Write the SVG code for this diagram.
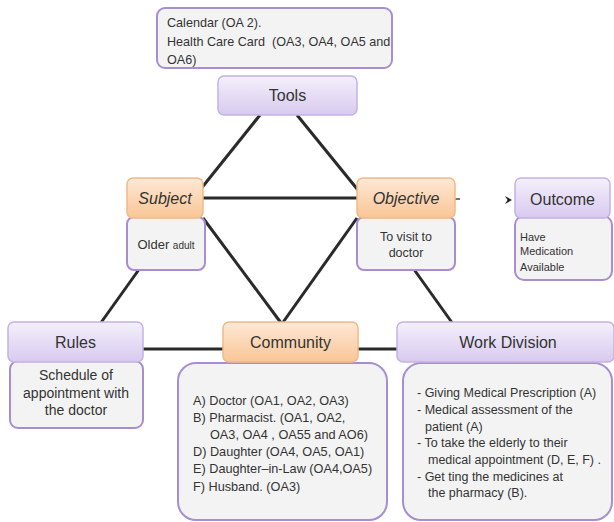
<svg xmlns="http://www.w3.org/2000/svg" width="614" height="522" viewBox="0 0 614 522" xml:space="preserve">
<defs>
<linearGradient id="gp" x1="0" y1="0" x2="0" y2="1"><stop offset="0" stop-color="#f4f0fb"/><stop offset="1" stop-color="#d8caef"/></linearGradient>
<linearGradient id="go" x1="0" y1="0" x2="0" y2="1"><stop offset="0" stop-color="#fee9d6"/><stop offset="1" stop-color="#f9c596"/></linearGradient>
<marker id="arr" markerWidth="10" markerHeight="10" refX="7" refY="5" orient="auto" markerUnits="userSpaceOnUse"><path d="M0,1 L7,5 L0,9 L2.5,5 Z" fill="#222"/></marker>
<style>
.hp{fill:url(#gp);stroke:#c4b2e3;stroke-width:1.5}
.ho{fill:url(#go);stroke:#f2b985;stroke-width:1.5}
.bd{fill:#f3f3f3;stroke:#a88dd0;stroke-width:2}
.t{font-family:"Liberation Sans",Arial,sans-serif;fill:#333;white-space:pre}
.h{font-size:16px;text-anchor:middle}
.c{text-anchor:middle}
.s{font-size:12.6px}
.e{stroke:#2a2a2a;stroke-width:3;fill:none}
</style>
</defs>
<g id="connectors">
<line class="e" x1="260" y1="115" x2="200" y2="190"/>
<line class="e" x1="297" y1="115" x2="362" y2="195"/>
<line class="e" x1="200" y1="198" x2="360" y2="198"/>
<line class="e" x1="203" y1="218" x2="290" y2="335"/>
<line class="e" x1="357" y1="218" x2="274" y2="335"/>
<line class="e" x1="140" y1="268" x2="100" y2="324"/>
<line class="e" x1="413" y1="268" x2="453" y2="324"/>
<line class="e" x1="140" y1="349" x2="225" y2="349"/>
<line class="e" x1="356" y1="349" x2="399" y2="349"/>
<line x1="455" y1="199" x2="460" y2="199" stroke="#444" stroke-width="1.5"/>
<line x1="500" y1="200" x2="512" y2="200" stroke="#fff" stroke-width="1" marker-end="url(#arr)"/>
</g>
<g id="tools-note">
<rect class="bd" x="157" y="8" width="235" height="60" rx="8"/>
<text class="t s" x="167" y="27">Calendar (OA 2).</text>
<text class="t s" x="167" y="46">Health Care Card  (OA3, OA4, OA5 and</text>
<text class="t s" x="167" y="64">OA6)</text>
</g>
<g id="tools">
<rect class="hp" x="218" y="76" width="139" height="39" rx="6"/>
<text class="t h" x="287.5" y="101">Tools</text>
</g>
<g id="subject">
<rect class="bd" x="127" y="217" width="78" height="53" rx="7"/>
<text class="t c" x="166" y="249"><tspan font-size="13">Older </tspan><tspan font-size="10">adult</tspan></text>
<rect class="ho" x="127" y="178" width="76" height="40" rx="6"/>
<text class="t h" x="165" y="204" font-style="italic" font-size="15.5">Subject</text>
</g>
<g id="objective">
<rect class="bd" x="357" y="217" width="98" height="53" rx="7"/>
<text class="t c" x="406" y="241" font-size="12.5">To visit to</text>
<text class="t c" x="406" y="257" font-size="12.5">doctor</text>
<rect class="ho" x="357" y="178" width="98" height="40" rx="6"/>
<text class="t h" x="406" y="204" font-style="italic" font-size="15.5">Objective</text>
</g>
<g id="outcome">
<rect class="bd" x="515" y="216" width="97" height="64" rx="9"/>
<text class="t" x="520" y="241" font-size="11">Have</text>
<text class="t" x="520" y="255" font-size="11">Medication</text>
<text class="t" x="520" y="271" font-size="11">Available</text>
<rect class="hp" x="515" y="178" width="95" height="40" rx="6"/>
<text class="t h" x="562.5" y="205">Outcome</text>
</g>
<g id="rules">
<rect class="bd" x="10" y="361" width="133" height="67" rx="8"/>
<text class="t c" x="76" y="380" font-size="14">Schedule of</text>
<text class="t c" x="76" y="398" font-size="14">appointment with</text>
<text class="t c" x="76" y="415" font-size="14">the doctor</text>
<rect class="hp" x="8" y="322" width="135" height="40" rx="6"/>
<text class="t h" x="75.5" y="348">Rules</text>
</g>
<g id="community">
<rect class="bd" x="178" y="363" width="209" height="157" rx="18"/>
<g class="t" font-size="12.7">
<text x="193" y="405">A) Doctor  (OA1, OA2, OA3)</text>
<text x="193" y="422">B) Pharmacist. (OA1, OA2,</text>
<text x="210" y="439">OA3, OA4 , OA55 and AO6)</text>
<text x="193" y="456">D) Daughter  (OA4, OA5, OA1)</text>
<text x="193" y="473">E) Daughter–in-Law (OA4,OA5)</text>
<text x="193" y="491">F) Husband. (OA3)</text>
</g>
<rect class="ho" x="223" y="322" width="135" height="40" rx="6"/>
<text class="t h" x="290.5" y="348">Community</text>
</g>
<g id="work-division">
<rect class="bd" x="403" y="363" width="209" height="157" rx="18"/>
<g class="t" font-size="12.5">
<text x="417" y="397">- Giving Medical Prescription (A)</text>
<text x="417" y="414">- Medical assessment of the</text>
<text x="425" y="431">patient (A)</text>
<text x="417" y="447">- To take the elderly to their</text>
<text x="428" y="464">medical appointment  (D, E, F) .</text>
<text x="417" y="481">- Get ting the medicines at</text>
<text x="428" y="497">the pharmacy (B).</text>
</g>
<rect class="hp" x="397" y="322" width="217" height="40" rx="6"/>
<text class="t h" x="508" y="348">Work Division</text>
</g>
</svg>
